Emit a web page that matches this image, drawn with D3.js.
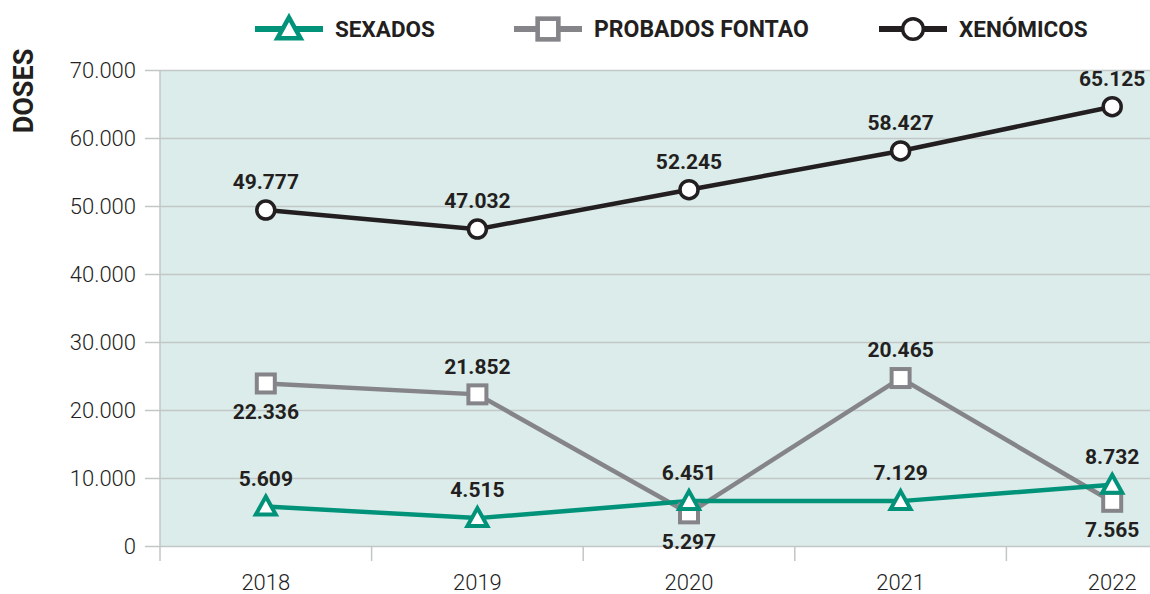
<!DOCTYPE html>
<html>
<head>
<meta charset="utf-8">
<script src="https://cdn.jsdelivr.net/npm/d3@7"></script>
<style>
  html, body { margin: 0; padding: 0; background: #fff; }
  svg text { font-family: Roboto, "Liberation Sans", sans-serif; }
</style>
</head>
<body>
<div id="chart"></div>
<script>
const years = ['2018', '2019', '2020', '2021', '2022']
const yTicks = [0, 10000, 20000, 30000, 40000, 50000, 60000, 70000]

// plotted positions and the printed labels
const sexados = [5800, 4100, 6600, 6600, 9000]
const sexadosLabels = ['5.609', '4.515', '6.451', '7.129', '8.732']
const probados = [23900, 22300, 4800, 24700, 6500]
const probadosLabels = ['22.336', '21.852', '5.297', '20.465', '7.565']
const xenomicos = [49400, 46600, 52400, 58100, 64600]
const xenomicosLabels = ['49.777', '47.032', '52.245', '58.427', '65.125']
// label above (-1) or below (+1) the marker
const probadosSide = [1, -1, 1, -1, 1]

const width = 1150, height = 594
const margin = {left: 160, top: 70, bottom: 48}
const plotRight = 1218

const svg = d3.select('#chart').append('svg')
    .attr('width', width)
    .attr('height', height)

const x = d3.scaleBand().domain(years).range([margin.left, plotRight])
const y = d3.scaleLinear().domain([0, 70000]).range([height - margin.bottom, margin.top])
const cx = d => x(d) + x.bandwidth() / 2

svg.append('rect')
    .attr('x', margin.left).attr('y', y(70000))
    .attr('width', plotRight - margin.left).attr('height', y(0) - y(70000))
    .attr('fill', '#dbecea')

// y grid + labels
const fmt = v => v === 0 ? '0' : d3.format(',')(v).replace(/,/g, '.')
const yAxis = svg.append('g')
    .attr('transform', `translate(${margin.left},0)`)
    .call(d3.axisLeft(y).tickValues(yTicks).tickFormat(fmt).tickSize(15).tickPadding(9))
yAxis.select('.domain').remove()
yAxis.selectAll('.tick line').attr('stroke', '#c3c6c6').attr('stroke-width', 1.5)
yAxis.selectAll('.tick text').attr('fill', '#222').style('font-size', '22px').style('font-weight', 300)
yAxis.selectAll('.tick').append('line')
    .attr('x1', 0).attr('x2', plotRight - margin.left)
    .attr('stroke', '#c3c6c6').attr('stroke-width', 1.5)

// vertical separators below x axis
const bounds = years.map(d => x(d)).concat([plotRight])
svg.append('g').selectAll('line').data(bounds).join('line')
    .attr('x1', d => d).attr('x2', d => d)
    .attr('y1', (d, i) => i === 0 ? y(70000) : y(0))
    .attr('y2', y(0) + 15)
    .attr('stroke', '#c3c6c6').attr('stroke-width', 1.5)

svg.append('g').selectAll('text').data(years).join('text')
    .attr('x', d => cx(d)).attr('y', 590)
    .attr('text-anchor', 'middle')
    .attr('fill', '#222')
    .style('font-size', '22px').style('font-weight', 300)
    .text(d => d)

svg.append('text')
    .attr('transform', `translate(33,91) rotate(-90)`)
    .attr('text-anchor', 'middle')
    .attr('fill', '#231f20')
    .style('font-size', '27px').style('font-weight', 700)
    .text('DOSES')

const line = d3.line().x((d, i) => cx(years[i])).y(d => y(d))

const series = [
    {name: 'SEXADOS', values: sexados, labels: sexadosLabels, color: '#00937a', shape: 'tri', side: [-1, -1, -1, -1, -1]},
    {name: 'PROBADOS FONTAO', values: probados, labels: probadosLabels, color: '#858589', shape: 'sq', side: probadosSide},
    {name: 'XENÓMICOS', values: xenomicos, labels: xenomicosLabels, color: '#231f20', shape: 'circ', side: [-1, -1, -1, -1, -1]}
]

function marker(g, shape, color, k) {
    k = k || 1
    if (shape === 'circ') {
        g.append('circle').attr('r', 9 * k).attr('fill', '#fff').attr('stroke', color).attr('stroke-width', 3.5)
    } else if (shape === 'sq') {
        g.append('rect').attr('x', -9 * k).attr('y', -9 * k).attr('width', 18 * k).attr('height', 18 * k)
            .attr('fill', '#fff').attr('stroke', color).attr('stroke-width', 4 * k)
    } else {
        g.append('path').attr('d', `M0,${-10 * k} L${10 * k},${8 * k} L${-10 * k},${8 * k} Z`)
            .attr('fill', '#fff').attr('stroke', color).attr('stroke-width', 4 * k).attr('stroke-linejoin', 'miter')
    }
}

// draw order: probados, sexados, xenomicos
const order = [1, 0, 2]
order.forEach(k => {
    const s = series[k]
    svg.append('path').datum(s.values)
        .attr('d', line)
        .attr('fill', 'none').attr('stroke', s.color).attr('stroke-width', 4.5)
})
order.forEach(k => {
    const s = series[k]
    s.values.forEach((v, i) => {
        const g = svg.append('g').attr('transform', `translate(${cx(years[i])},${y(v)})`)
        marker(g, s.shape, s.color)
    })
})
order.forEach(k => {
    const s = series[k]
    s.values.forEach((v, i) => {
        svg.append('text')
            .attr('x', cx(years[i]))
            .attr('y', y(v) + s.side[i] * 28)
            .attr('dy', '0.35em')
            .attr('text-anchor', 'middle')
            .attr('fill', '#231f20')
            .style('font-size', '21px').style('font-weight', 700)
            .text(s.labels[i])
    })
})

// legend
const legendPos = [255, 514, 879]
const legendSize = [22.5, 23, 22.5]
series.forEach((s, k) => {
    const g = svg.append('g').attr('transform', `translate(${legendPos[k]},29)`)
    g.append('line').attr('x1', 0).attr('x2', 68)
        .attr('stroke', s.color).attr('stroke-width', 6)
    const m = g.append('g').attr('transform', 'translate(34,0)')
    marker(m, s.shape, s.color, 1.15)
    g.append('text').attr('x', 80).attr('dy', '0.35em')
        .attr('fill', '#231f20')
        .style('font-size', legendSize[k] + 'px').style('font-weight', 700)
        .text(s.name)
})
</script>
</body>
</html>
